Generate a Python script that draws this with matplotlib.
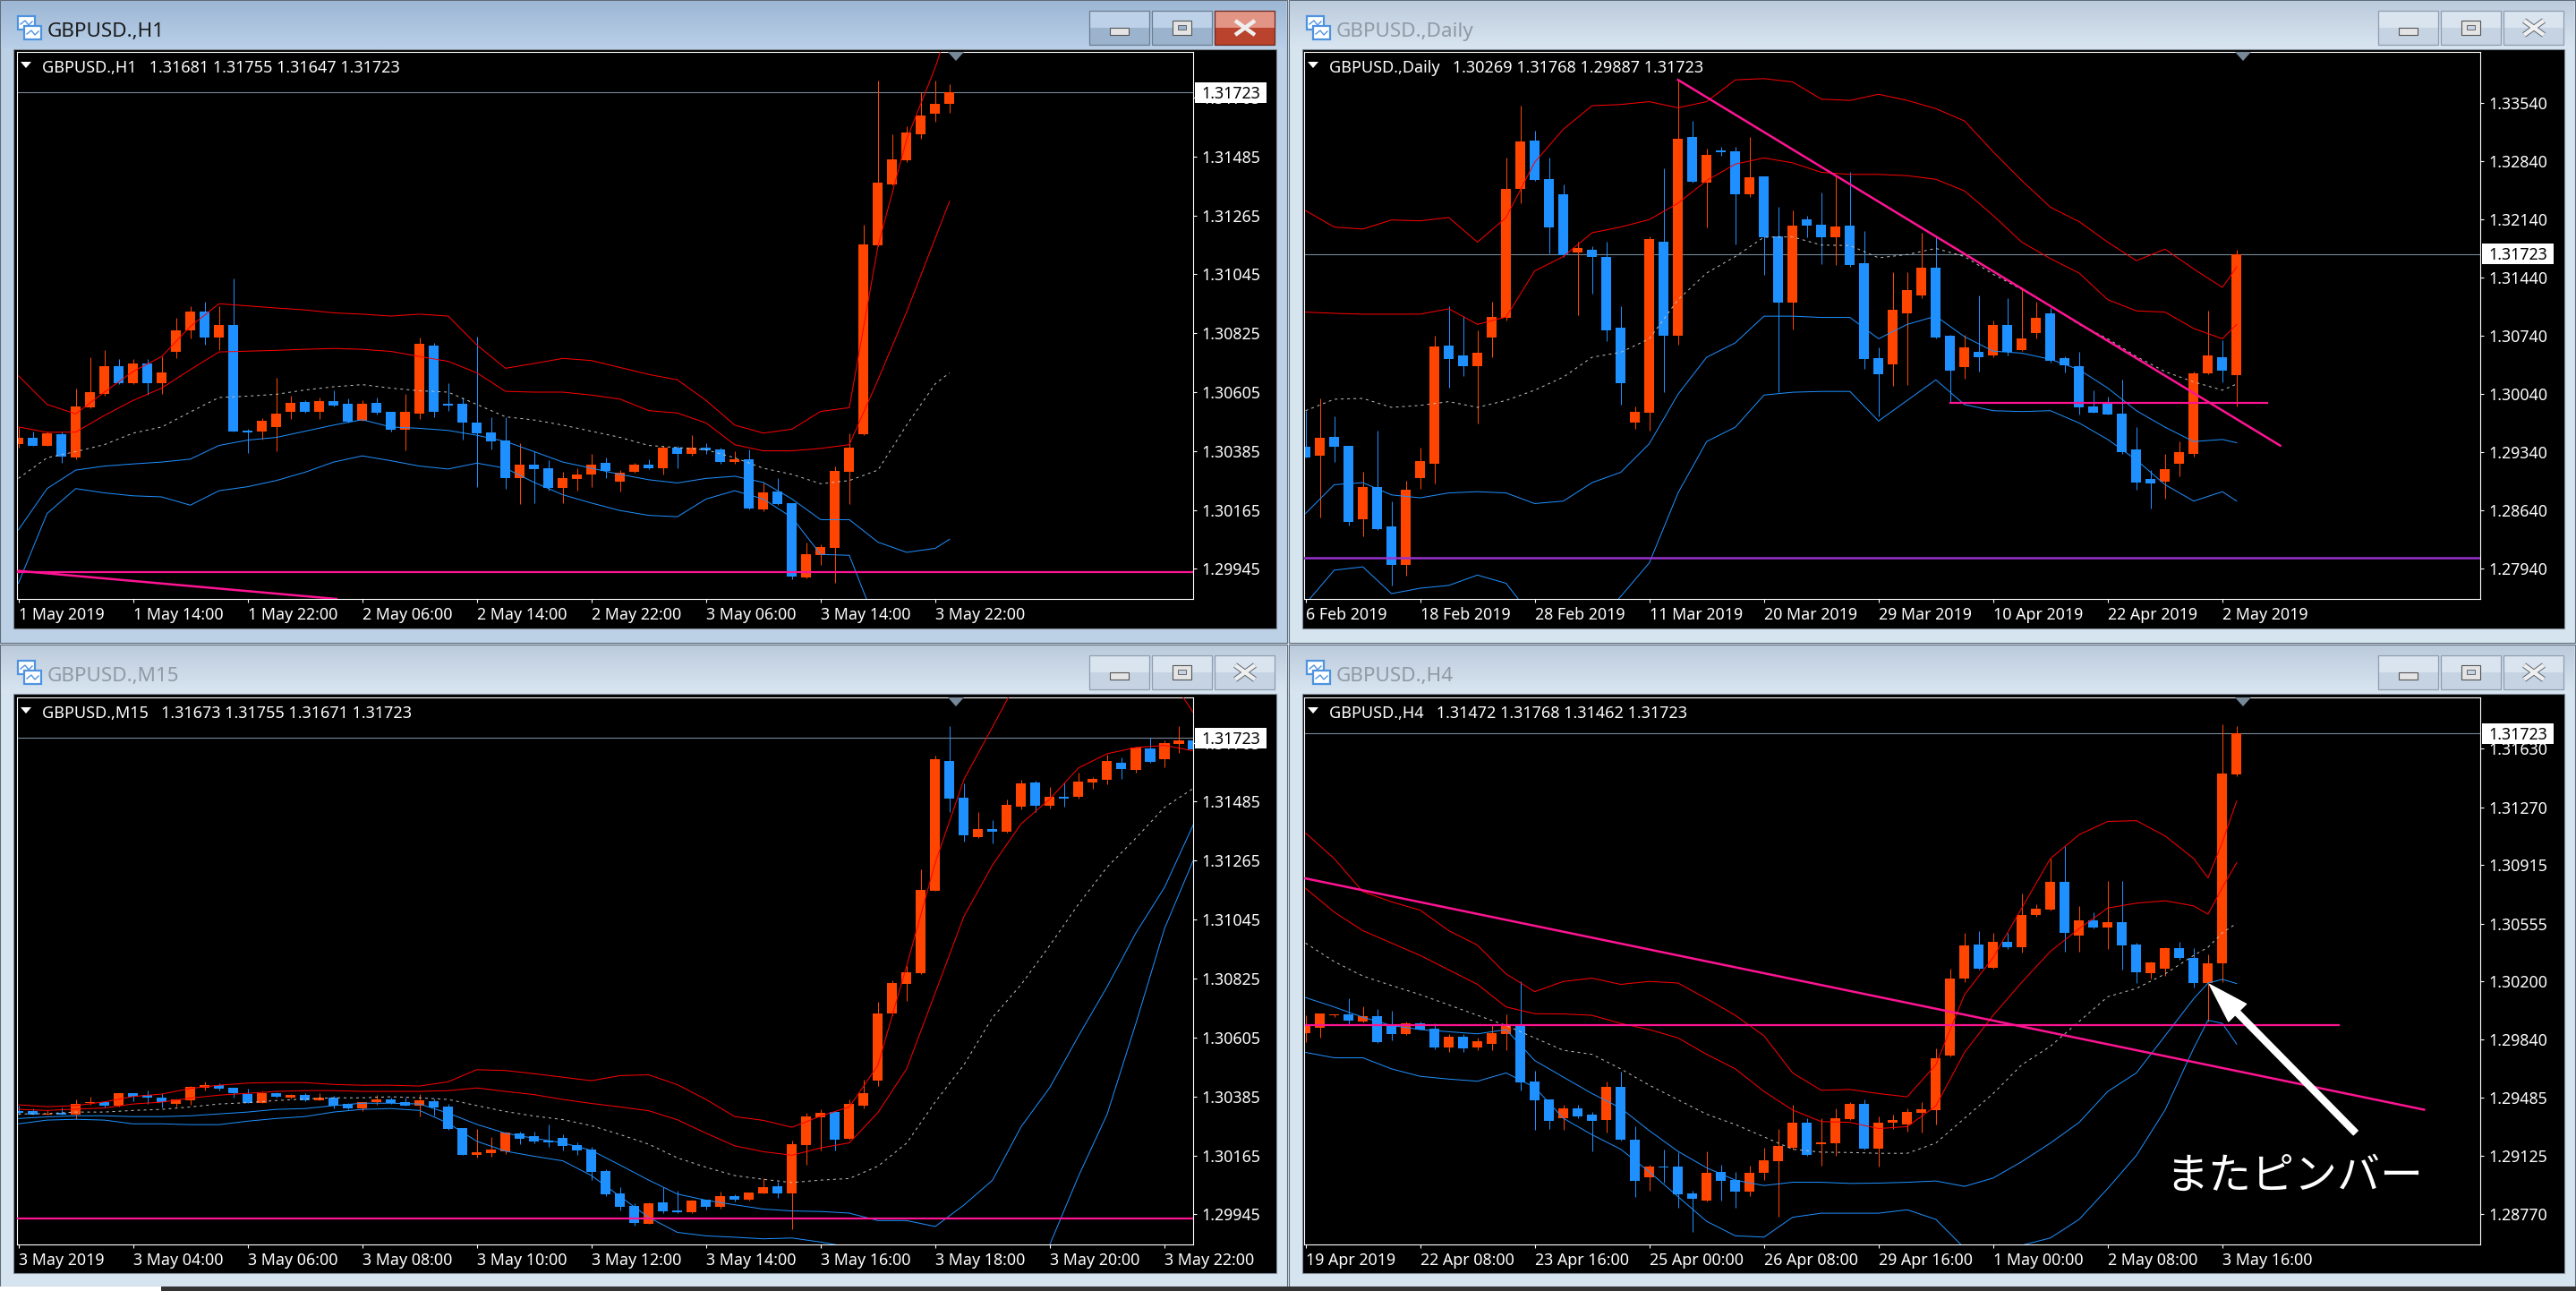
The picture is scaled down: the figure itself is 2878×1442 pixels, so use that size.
import numpy as np
import matplotlib
matplotlib.use('Agg')
import matplotlib.pyplot as plt
from matplotlib.patches import Rectangle, Polygon

plt.rcParams['font.family'] = ['Noto Sans', 'DejaVu Sans']

# prices are kept as points: 30385 means 1.30385
LAST_PRICE = 31723

# H1
H1_OPEN = [30410,30436,30406,30449,30360,30548,30600,30703,30640,30711,30640,30754,30835,30907,30809,30857,30462,30459,30475,30530,30567,30533,30573,30561,30499,30564,30530,30464,30524,30780,30561,30561,30493,30456,30424,30283,30333,30320,30248,30280,30298,30340,30272,30306,30333,30320,30398,30376,30398,30392,30343,30355,30168,30235,30189,29912,29998,30025,30309,30447,31153,31380,31472,31568,31645,31681]
H1_CLOSE = [30436,30406,30452,30363,30550,30605,30703,30640,30711,30640,30677,30837,30907,30809,30857,30459,30453,30498,30524,30564,30533,30573,30556,30495,30561,30528,30464,30530,30784,30533,30556,30490,30452,30421,30283,30333,30317,30249,30283,30298,30335,30312,30304,30333,30320,30399,30373,30398,30389,30343,30355,30171,30232,30186,29915,29999,30028,30312,30399,31157,31386,31475,31573,31639,31682,31723]
H1_HIGH = [30475,30459,30459,30459,30620,30735,30761,30728,30728,30728,30738,30881,30927,30943,30927,31031,30467,30508,30659,30590,30574,30585,30613,30582,30574,30585,30530,30597,30809,30789,30640,30585,30812,30513,30513,30413,30383,30352,30306,30321,30375,30360,30314,30340,30355,30406,30406,30444,30413,30398,30383,30390,30268,30283,30189,30045,30037,30329,30452,31229,31769,31567,31598,31725,31769,31755]
H1_LOW = [30398,30406,30403,30340,30355,30544,30590,30636,30636,30594,30597,30731,30804,30781,30761,30459,30378,30429,30386,30505,30528,30505,30551,30493,30497,30521,30459,30387,30505,30513,30536,30429,30252,30390,30245,30186,30191,30237,30191,30237,30252,30283,30234,30304,30317,30298,30321,30367,30375,30337,30337,30168,30160,30183,29907,29910,29961,29892,30186,30444,31150,31377,31464,31552,31614,31647]
H1_BAND_X = list(range(0, 66, 2)) + [65]
H1_UPPER2 = [30666,30559,30524,30605,30682,30738,30850,30935,30927,30919,30912,30901,30896,30889,30896,30889,30781,30694,30712,30731,30723,30697,30671,30651,30574,30482,30452,30467,30533,30547,31150,31548,31817,31978]
H1_UPPER1 = [30475,30455,30456,30518,30574,30620,30689,30755,30758,30761,30765,30768,30765,30757,30738,30720,30677,30608,30605,30605,30594,30579,30536,30527,30490,30409,30386,30386,30395,30409,30651,30904,31180,31318]
H1_MID = [30283,30360,30383,30409,30452,30475,30531,30585,30590,30597,30613,30625,30633,30620,30610,30605,30559,30513,30501,30482,30459,30436,30406,30398,30390,30360,30321,30298,30263,30275,30314,30482,30636,30677]
H1_LOWER1 = [30091,30245,30314,30329,30337,30344,30355,30406,30426,30436,30459,30482,30502,30475,30470,30462,30444,30421,30383,30344,30321,30298,30278,30266,30283,30291,30268,30206,30129,30129,30045,30007,30022,30056]
H1_LOWER2 = [29892,30152,30245,30229,30218,30214,30183,30237,30252,30275,30306,30344,30367,30349,30329,30318,30340,30321,30268,30222,30191,30163,30145,30140,30206,30237,30206,30137,29999,29996,29723]
H1_TICKS = [29945,30165,30385,30605,30825,31045,31265,31485,31705]
H1_DATES = ['1 May 2019','1 May 14:00','1 May 22:00','2 May 06:00','2 May 14:00','2 May 22:00','3 May 06:00','3 May 14:00','3 May 22:00']
H1_YLIM = [29833, 31875]
H1_LEVEL = 29933
H1_TREND_X = [0, 22.2]
H1_TREND_Y = [29938, 29833]

# Daily
D1_OPEN = [29403,29295,29527,29418,28528,28923,28449,27984,29032,29195,30624,30505,30372,30713,30960,32507,33086,32626,32443,31746,31776,31692,30832,29690,29813,31874,30738,33125,32586,32967,32962,32443,32651,31939,31133,32141,32077,31924,32067,31608,30466,30392,31005,31227,31563,30743,30367,30550,30505,30871,30570,30772,31014,30466,30377,29893,29927,29799,29369,29012,28983,29205,29319,30283,30481,30269]
D1_CLOSE = [29280,29517,29403,28503,28923,28414,27984,28884,29235,30614,30456,30372,30540,30970,32507,33071,32616,32038,31706,31790,31682,30807,30169,29828,31899,30738,33110,32591,32917,32942,32443,32641,31929,31133,32067,32067,31924,32057,31593,30456,30273,31054,31291,31563,30723,30322,30604,30481,30871,30545,30703,30960,30441,30382,29873,29818,29789,29344,28973,28968,29136,29344,30283,30505,30317,31723]
D1_HIGH = [29838,29986,29774,29418,29107,29601,28751,28998,29393,30738,31098,30975,30802,31148,32878,33511,33209,32878,32557,31865,31815,31865,31098,29887,31939,32754,33817,33323,32992,33011,33011,33125,32651,32285,32245,32186,32458,32655,32705,31998,30604,31509,31509,31978,31939,30753,30753,31222,30925,31197,31321,31148,31074,30491,30545,30085,30011,30209,29640,29121,29319,29467,30308,31039,30688,31768]
D1_LOW = [29270,28552,29220,28454,28330,28404,27737,27851,28899,28958,30120,30258,29680,30481,30925,32334,32606,31726,31692,30985,31247,30678,29912,29616,29601,30060,30629,32581,32038,32903,31840,32408,31469,30060,30812,31924,31603,31593,31568,30342,29774,30134,30144,31197,30703,29937,30224,30308,30481,30505,30555,30703,30421,30293,29789,29813,29789,29319,28889,28662,28775,29047,29284,30273,30184,29887]
D1_BAND_X = list(range(0, 66, 2)) + [65]
D1_UPPER2 = [32245,32047,32023,32132,32122,32161,31865,32161,32828,33224,33506,33521,33555,33481,33555,33817,33832,33792,33585,33570,33644,33570,33471,33323,32952,32606,32285,32112,31865,31642,31781,31543,31321,31568]
D1_UPPER1 = [31024,31009,30999,30999,30999,31064,30876,30965,31519,31692,31978,32047,32137,32334,32606,32804,32878,32819,32705,32680,32680,32665,32621,32482,32186,31865,31667,31494,31173,31039,31024,30827,30703,30876]
D1_MID = [29838,29976,29986,29878,29902,29947,29878,29962,30085,30243,30481,30540,30703,31173,31494,31692,31924,31929,31830,31825,31677,31716,31790,31692,31479,31296,31098,30876,30703,30490,30308,30184,30085,30159]
D1_LOWER1 = [28602,28948,28973,28825,28790,28849,28864,28849,28721,28751,28973,29097,29442,30036,30481,30654,30975,30975,30960,30960,30703,30876,30975,30728,30555,30530,30456,30332,30110,29838,29640,29467,29492,29452]
D1_LOWER2 = [27515,27920,27960,27638,27703,27737,27861,27762,27317,27169,27218,27604,28009,28849,29467,29640,30026,30060,30070,30070,29714,29962,30209,29912,29838,29828,29838,29690,29492,29245,28948,28751,28864,28751]
D1_TICKS = [27940,28640,29340,30040,30740,31440,32140,32840,33540]
D1_DATES = ['6 Feb 2019','18 Feb 2019','28 Feb 2019','11 Mar 2019','20 Mar 2019','29 Mar 2019','10 Apr 2019','22 Apr 2019','2 May 2019']
D1_YLIM = [27574, 34153]
D1_TREND_X = [26, 68.04]
D1_TREND_Y = [33817, 29418]
D1_SEG_X = [45, 67.1]
D1_SEG_Y = [29937, 29937]
D1_PURPLE = 28064

# M15
M15_OPEN = [30331,30331,30319,30325,30318,30360,30365,30351,30398,30391,30381,30358,30371,30418,30428,30418,30395,30361,30398,30381,30391,30371,30381,30358,30341,30365,30375,30365,30351,30368,30348,30268,30168,30174,30181,30248,30237,30221,30231,30204,30188,30107,30024,29977,29910,29991,29961,29954,30001,29974,30014,30001,30024,30051,30024,30204,30308,30328,30228,30351,30445,30695,30806,30846,31154,31637,31500,31354,31383,31372,31467,31557,31470,31504,31504,31557,31567,31631,31604,31684,31644,31701,31714]
M15_CLOSE = [30325,30319,30322,30319,30358,30365,30351,30398,30385,30381,30365,30375,30421,30428,30415,30398,30361,30398,30385,30391,30371,30381,30351,30341,30365,30375,30360,30351,30371,30345,30264,30168,30178,30188,30251,30228,30218,30214,30201,30184,30104,30021,29974,29914,29987,29957,29954,29997,29974,30014,30001,30027,30047,30024,30208,30311,30325,30224,30358,30398,30696,30809,30849,31157,31644,31497,31361,31383,31373,31474,31554,31470,31504,31497,31560,31570,31637,31607,31687,31634,31704,31714,31681]
M15_HIGH = [30351,30341,30335,30345,30375,30385,30368,30398,30398,30408,30398,30378,30425,30441,30435,30418,30415,30405,30401,30395,30398,30398,30388,30361,30365,30391,30381,30381,30395,30378,30358,30268,30264,30234,30254,30254,30254,30281,30244,30214,30198,30114,30047,29987,29991,30047,30034,30001,30001,30031,30021,30027,30081,30067,30221,30325,30338,30331,30375,30448,30737,30818,30872,31231,31657,31767,31554,31447,31417,31494,31567,31564,31540,31557,31594,31577,31661,31651,31691,31724,31714,31767,31747]
M15_LOW = [30318,30318,30318,30318,30301,30355,30345,30348,30368,30358,30345,30349,30355,30408,30408,30381,30361,30361,30381,30378,30368,30371,30341,30336,30331,30355,30358,30351,30311,30315,30261,30168,30158,30161,30171,30208,30211,30198,30184,30168,30074,30014,29961,29904,29910,29950,29950,29950,29964,29967,29994,29997,30024,30007,29890,30131,30184,30184,30224,30341,30425,30688,30742,30842,31154,31448,31337,31349,31331,31368,31457,31447,31460,31467,31497,31534,31550,31570,31594,31631,31614,31667,31681]
M15_BAND_X = list(range(0, 83, 2))
M15_UPPER2 = [30354,30347,30351,30365,30385,30394,30415,30427,30435,30437,30437,30430,30427,30427,30424,30440,30485,30482,30470,30457,30444,30463,30466,30429,30374,30310,30296,30270,30312,30346,30502,30872,31257,31568,31764,31964,32072,32118,32118,32072,31980,31818]
M15_UPPER1 = [30337,30333,30338,30342,30357,30364,30379,30390,30397,30404,30407,30407,30404,30404,30404,30407,30417,30404,30392,30374,30359,30346,30332,30298,30248,30201,30179,30166,30193,30212,30325,30488,30772,31057,31249,31403,31495,31611,31664,31687,31695,31675]
M15_MID = [30320,30321,30327,30327,30333,30337,30346,30357,30362,30370,30376,30380,30380,30384,30380,30374,30351,30329,30312,30299,30276,30243,30207,30156,30121,30090,30076,30064,30073,30079,30125,30211,30365,30503,30680,30803,30949,31103,31241,31349,31464,31534]
M15_LOWER1 = [30303,30309,30313,30313,30310,30310,30313,30320,30327,30337,30340,30351,30360,30360,30357,30323,30281,30248,30229,30212,30184,30129,30073,30021,29998,29981,29965,29958,29956,29950,29922,29922,29900,29980,30073,30273,30419,30611,30795,30995,31165,31398]
M15_LOWER2 = [30283,30297,30300,30297,30283,30283,30280,30280,30293,30303,30310,30327,30337,30340,30333,30285,30218,30181,30162,30145,30090,30012,29934,29878,29865,29860,29854,29857,29842,29823,29703,29596,29550,29550,29596,29703,29833,30088,30319,30657,31011,31265]
M15_TICKS = [29945,30165,30385,30605,30825,31045,31265,31485,31705]
M15_DATES = ['3 May 2019','3 May 04:00','3 May 06:00','3 May 08:00','3 May 10:00','3 May 12:00','3 May 14:00','3 May 16:00','3 May 18:00','3 May 20:00','3 May 22:00']
M15_YLIM = [29833, 31874]
M15_LEVEL = 29931

# H4
H4_OPEN = [29882,29915,29989,29999,29953,29984,29936,29877,29941,29910,29794,29857,29794,29814,29877,29923,29586,29472,29358,29421,29378,29345,29553,29229,28998,29059,29059,28894,28851,29029,28978,28910,29021,29097,29176,29333,29201,29206,29353,29444,29173,29333,29320,29393,29409,29746,30214,30427,30285,30440,30409,30607,30642,30812,30480,30576,30531,30566,30424,30250,30275,30402,30346,30189,30308,31472]
H4_CLOSE = [29928,30004,29999,29956,29984,29827,29877,29941,29905,29794,29857,29789,29832,29882,29923,29578,29467,29340,29421,29371,29340,29553,29226,28973,29059,29054,28889,28862,29024,28971,28910,29024,29100,29186,29333,29135,29211,29358,29444,29173,29333,29345,29396,29414,29728,30219,30422,30275,30440,30407,30609,30645,30812,30495,30574,30531,30564,30419,30255,30316,30402,30341,30189,30313,31478,31723]
H4_HIGH = [29991,30004,29999,30093,30047,30029,30017,29953,29953,29941,29877,29877,29852,29928,29999,30199,29649,29472,29439,29439,29396,29586,29642,29307,29074,29168,29150,28915,29155,29074,29029,29067,29176,29295,29442,29358,29358,29421,29459,29472,29371,29383,29421,29459,29789,30275,30498,30511,30498,30498,30739,30675,30954,31030,30663,30625,30815,30815,30435,30321,30409,30442,30402,30366,31777,31768]
H4_LOW = [29827,29852,29979,29928,29946,29822,29839,29870,29903,29784,29763,29763,29776,29776,29776,29530,29287,29295,29287,29358,29155,29269,29219,28877,28915,28965,28806,28661,28846,28851,28806,28882,28978,28755,29168,29130,29067,29130,29345,29168,29059,29295,29277,29269,29320,29738,30194,30270,30280,30397,30376,30599,30637,30384,30384,30523,30397,30270,30189,30214,30232,30333,30161,29953,30194,31462]
H4_BAND_X = list(range(0, 64, 2)) + [63, 64, 65]
H4_UPPER2 = [31111,30954,30751,30688,30637,30511,30422,30245,30136,30199,30219,30181,30199,30189,30093,29991,29865,29637,29530,29535,29510,29490,29687,30118,30346,30650,30954,31101,31182,31187,31093,30954,30835,31055,31308]
H4_UPPER1 = [30771,30625,30511,30435,30359,30270,30181,30042,30001,29999,29991,29941,29903,29852,29751,29662,29523,29409,29338,29333,29295,29307,29434,29763,29991,30194,30384,30523,30650,30680,30695,30663,30612,30776,30929]
H4_MID = [30435,30321,30232,30174,30118,30055,29991,29928,29852,29776,29751,29662,29561,29472,29383,29320,29244,29168,29150,29148,29143,29143,29206,29358,29510,29687,29801,29953,30105,30156,30245,30359,30409,30498,30556]
H4_LOWER1 = [30100,30042,29979,29928,29903,29890,29877,29903,29713,29611,29510,29421,29282,29155,29054,28978,28945,28965,28965,28958,28960,28965,28973,28940,28991,29092,29206,29333,29523,29637,29865,30093,30189,30212,30186]
H4_LOWER2 = [29763,29730,29730,29662,29616,29599,29586,29637,29548,29358,29257,29168,29029,28877,28725,28636,28628,28750,28775,28775,28775,28796,28737,28560,28497,28578,28623,28737,28927,29130,29409,29789,29961,29941,29814]
H4_TICKS = [28770,29125,29485,29840,30200,30555,30915,31270,31630]
H4_DATES = ['19 Apr 2019','22 Apr 08:00','23 Apr 16:00','25 Apr 00:00','26 Apr 08:00','29 Apr 16:00','1 May 00:00','2 May 08:00','3 May 16:00']
H4_YLIM = [28583, 31944]
H4_TREND_X = [0, 78.08]
H4_TREND_Y = [30832, 29411]
H4_SEG_X = [0, 72.1]
H4_SEG_Y = [29933, 29933]
H4_ARROW_TIP = [63.1, 30181]
H4_ARROW_TAIL = [73.3, 29269]

W, H = 2878, 1442
BULL = '#ff4500'
BEAR = '#1e90ff'
PINK = '#ff1493'
PURPLE = '#9932cc'
GREY = '#778899'
FS = 12.8


def price(v):
    return 1 + np.asarray(v, dtype=float) / 1e5


def draw_window(bg, x0, y0, x1, y1, title, active):
    if active:
        top, low, foot = '#9db7d4', '#b9cfe8', '#bcd0e6'
    else:
        top, low, foot = '#bccbdc', '#d8e5f1', '#d6e4f0'
    bg.add_patch(Rectangle((x0, y0), x1 - x0, y1 - y0, fc=foot, ec='#5f6b78', lw=0.8))
    top_rgb = np.array(matplotlib.colors.to_rgb(top))
    low_rgb = np.array(matplotlib.colors.to_rgb(low))
    grad = np.linspace(0, 1, 32)[:, None, None] * (low_rgb - top_rgb) + top_rgb
    bg.imshow(grad, extent=(x0 + 1, x1 - 1, y0 + 54, y0 + 1), aspect='auto', zorder=1)
    # client area
    bg.add_patch(Rectangle((x0 + 15, y0 + 55), x1 - x0 - 27, 647, fc='black', ec='#7f8a95', lw=0.8, zorder=2))
    # icon
    for ix, iy in [(x0 + 20, y0 + 18), (x0 + 27, y0 + 29)]:
        bg.add_patch(Rectangle((ix, iy), 19, 15, fc='white', ec='#4f93e0', lw=1.6, zorder=3))
        bg.plot([ix + 3, ix + 8, ix + 12, ix + 16], [iy + 9, iy + 5, iy + 10, iy + 6], color='#4f93e0', lw=1, zorder=4)
    bg.text(x0 + 53, y0 + 35, title, fontsize=16.2, color='#1a1a1a' if active else '#8f9aa5', va='center', ha='left', zorder=4)
    # buttons
    bx = x0 + 1217
    for k in range(3):
        if active and k == 2:
            c1, c2, edge = '#e39585', '#b9432c', '#6e2a20'
        elif active:
            c1, c2, edge = '#bdd2e8', '#9cb3cd', '#6b7d90'
        else:
            c1, c2, edge = '#d9e4ef', '#c5d3e2', '#8f9eb0'
        left = bx + k * 70
        bg.add_patch(Rectangle((left, y0 + 12), 67, 19, fc=c1, ec='none', zorder=3))
        bg.add_patch(Rectangle((left, y0 + 31), 67, 19, fc=c2, ec='none', zorder=3))
        bg.add_patch(Rectangle((left, y0 + 12), 67, 38, fc='none', ec=edge, lw=0.9, zorder=4))
    bg.add_patch(Rectangle((bx + 23, y0 + 31), 21, 8, fc='#e4e4e4', ec='#555555', lw=0.8, zorder=5))
    bg.add_patch(Rectangle((bx + 93, y0 + 23), 21, 16, fc='#e4e4e4', ec='#555555', lw=0.8, zorder=5))
    bg.add_patch(Rectangle((bx + 99, y0 + 28), 9, 5, fc='#9cb3cd' if active else '#c5d3e2', ec='#555555', lw=0.6, zorder=6))
    xc, yc = bx + 174, y0 + 31
    for dy in (-8, 8):
        if not active:
            bg.plot([xc - 11, xc + 11], [yc - dy, yc + dy], color='#5b6775', lw=4.6, zorder=5, solid_capstyle='butt')
        bg.plot([xc - 11, xc + 11], [yc - dy, yc + dy], color='#efefef', lw=3.2, zorder=6, solid_capstyle='butt')


def draw_panel(rect, name, quote, o, h, l, c, band_x, bands, ticks, dates, ylim):
    left, right, top, bottom = rect
    ax = fig.add_axes([left / W, 1 - bottom / H, (right - left) / W, (bottom - top) / H], zorder=2)
    ax.set_facecolor('black')
    o, h, l, c = price(o), price(h), price(l), price(c)
    x = np.arange(len(o))
    up = c >= o
    colors = [BULL if u else BEAR for u in up]
    ax.vlines(x, l, h, colors=colors, lw=0.72, zorder=2)
    ax.bar(x, np.abs(c - o), bottom=np.minimum(o, c), width=0.69, color=colors, lw=0, zorder=2.1, antialiased=False)

    upper2, upper1, mid, lower1, lower2 = bands
    for vals, col in [(upper2, '#ff0000'), (upper1, '#ff0000'), (lower1, BEAR), (lower2, BEAR)]:
        ax.plot(band_x[:len(vals)], price(vals), color=col, lw=0.72, zorder=3)
    ax.plot(band_x[:len(mid)], price(mid), color='#c0c0c0', lw=0.72, ls=(0, (3, 4)), zorder=3)

    ax.axhline(price(LAST_PRICE), color=GREY, lw=0.8, zorder=1.5)

    ax.set_xlim(-0.1, 82.0)
    ax.set_ylim(price(ylim[0]), price(ylim[1]))
    for s in ax.spines.values():
        s.set_color('white')
        s.set_linewidth(0.8)
    ax.yaxis.tick_right()
    ax.set_yticks(price(ticks))
    ax.set_yticklabels(['%.5f' % p for p in price(ticks)], fontsize=FS, color='white')
    ax.set_xticks(np.arange(len(dates)) * 8)
    ax.set_xticklabels(dates, fontsize=FS, color='white', ha='left')
    ax.tick_params(axis='y', length=3, width=0.8, color='white', pad=4)
    ax.tick_params(axis='x', length=3, width=0.8, color='white', pad=3.5)

    # price tag
    pw = right - left
    ph = bottom - top
    span = price(ylim[1]) - price(ylim[0])
    tag_h = 23 / ph * span
    ax.add_patch(Rectangle((1 + 2 / pw, price(LAST_PRICE) - tag_h / 2), 80 / pw, tag_h, fc='white', ec='none',
                           transform=ax.get_yaxis_transform(), clip_on=False, zorder=10))
    ax.text(1 + 9 / pw, price(LAST_PRICE) - 1.5 / ph * span, '%.5f' % price(LAST_PRICE), fontsize=FS, color='black', va='center', ha='left',
            transform=ax.get_yaxis_transform(), clip_on=False, zorder=11)

    # header + markers
    ax.add_patch(Polygon([(4 / pw, 1 - 11 / ph), (16 / pw, 1 - 11 / ph), (10 / pw, 1 - 18 / ph)], fc='white', ec='none',
                         transform=ax.transAxes, zorder=6))
    ax.text(28 / pw, 1 - 18 / ph, name + '   ' + quote, fontsize=13, color='white', va='center', ha='left',
            transform=ax.transAxes, zorder=6)
    ax.add_patch(Polygon([(1040 / pw, 1), (1058 / pw, 1), (1049 / pw, 1 - 10 / ph)], fc=GREY, ec='none',
                         transform=ax.transAxes, zorder=6))
    return ax


fig = plt.figure(figsize=(W / 100, H / 100), dpi=100)
fig.patch.set_facecolor('#d6e4f0')
bg = fig.add_axes([0, 0, 1, 1], zorder=0)
draw_window(bg, 0, 0, 1438, 718, 'GBPUSD.,H1', True)
draw_window(bg, 1440, 0, 2877, 718, 'GBPUSD.,Daily', False)
draw_window(bg, 0, 720, 1438, 1437, 'GBPUSD.,M15', False)
draw_window(bg, 1440, 720, 2877, 1437, 'GBPUSD.,H4', False)
bg.add_patch(Rectangle((0, 1437), W, 5, fc='#333333', ec='none', zorder=5))
bg.add_patch(Rectangle((0, 1437), 180, 5, fc='white', ec='none', zorder=6))
bg.set_xlim(0, W)
bg.set_ylim(H, 0)
bg.axis('off')

ax1 = draw_panel((19, 1333, 58, 669), 'GBPUSD.,H1', '1.31681 1.31755 1.31647 1.31723',
                 H1_OPEN, H1_HIGH, H1_LOW, H1_CLOSE, H1_BAND_X,
                 (H1_UPPER2, H1_UPPER1, H1_MID, H1_LOWER1, H1_LOWER2), H1_TICKS, H1_DATES, H1_YLIM)
ax1.axhline(price(H1_LEVEL), color=PINK, lw=1.6, zorder=4)
ax1.plot(H1_TREND_X, price(H1_TREND_Y), color=PINK, lw=1.8, zorder=4)

ax2 = draw_panel((1457, 2771, 58, 669), 'GBPUSD.,Daily', '1.30269 1.31768 1.29887 1.31723',
                 D1_OPEN, D1_HIGH, D1_LOW, D1_CLOSE, D1_BAND_X,
                 (D1_UPPER2, D1_UPPER1, D1_MID, D1_LOWER1, D1_LOWER2), D1_TICKS, D1_DATES, D1_YLIM)
ax2.plot(D1_TREND_X, price(D1_TREND_Y), color=PINK, lw=1.8, zorder=4)
ax2.plot(D1_SEG_X, price(D1_SEG_Y), color=PINK, lw=1.6, zorder=4)
ax2.axhline(price(D1_PURPLE), color=PURPLE, lw=1.8, zorder=4)

ax3 = draw_panel((19, 1333, 779, 1390), 'GBPUSD.,M15', '1.31673 1.31755 1.31671 1.31723',
                 M15_OPEN, M15_HIGH, M15_LOW, M15_CLOSE, M15_BAND_X,
                 (M15_UPPER2, M15_UPPER1, M15_MID, M15_LOWER1, M15_LOWER2), M15_TICKS, M15_DATES, M15_YLIM)
ax3.axhline(price(M15_LEVEL), color=PINK, lw=1.6, zorder=4)

ax4 = draw_panel((1457, 2771, 779, 1390), 'GBPUSD.,H4', '1.31472 1.31768 1.31462 1.31723',
                 H4_OPEN, H4_HIGH, H4_LOW, H4_CLOSE, H4_BAND_X,
                 (H4_UPPER2, H4_UPPER1, H4_MID, H4_LOWER1, H4_LOWER2), H4_TICKS, H4_DATES, H4_YLIM)
ax4.plot(H4_TREND_X, price(H4_TREND_Y), color=PINK, lw=1.8, zorder=4)
ax4.plot(H4_SEG_X, price(H4_SEG_Y), color=PINK, lw=1.6, zorder=4)

# the hand-drawn arrow and note
ax4.annotate('', xy=(H4_ARROW_TIP[0], price(H4_ARROW_TIP[1])), xytext=(H4_ARROW_TAIL[0], price(H4_ARROW_TAIL[1])),
             arrowprops=dict(facecolor='white', edgecolor='white', width=5, headwidth=20, headlength=32, shrink=0), zorder=8)
ax4.text((2563 - 1457) / 1314, 1 - (1314 - 779) / 611, 'またピンバー', fontsize=34.6, color='white',
         family=['Noto Sans CJK JP', 'DejaVu Sans'], ha='center', va='center', transform=ax4.transAxes, zorder=8)

fig.savefig('out.png', dpi=100, facecolor=fig.get_facecolor())
